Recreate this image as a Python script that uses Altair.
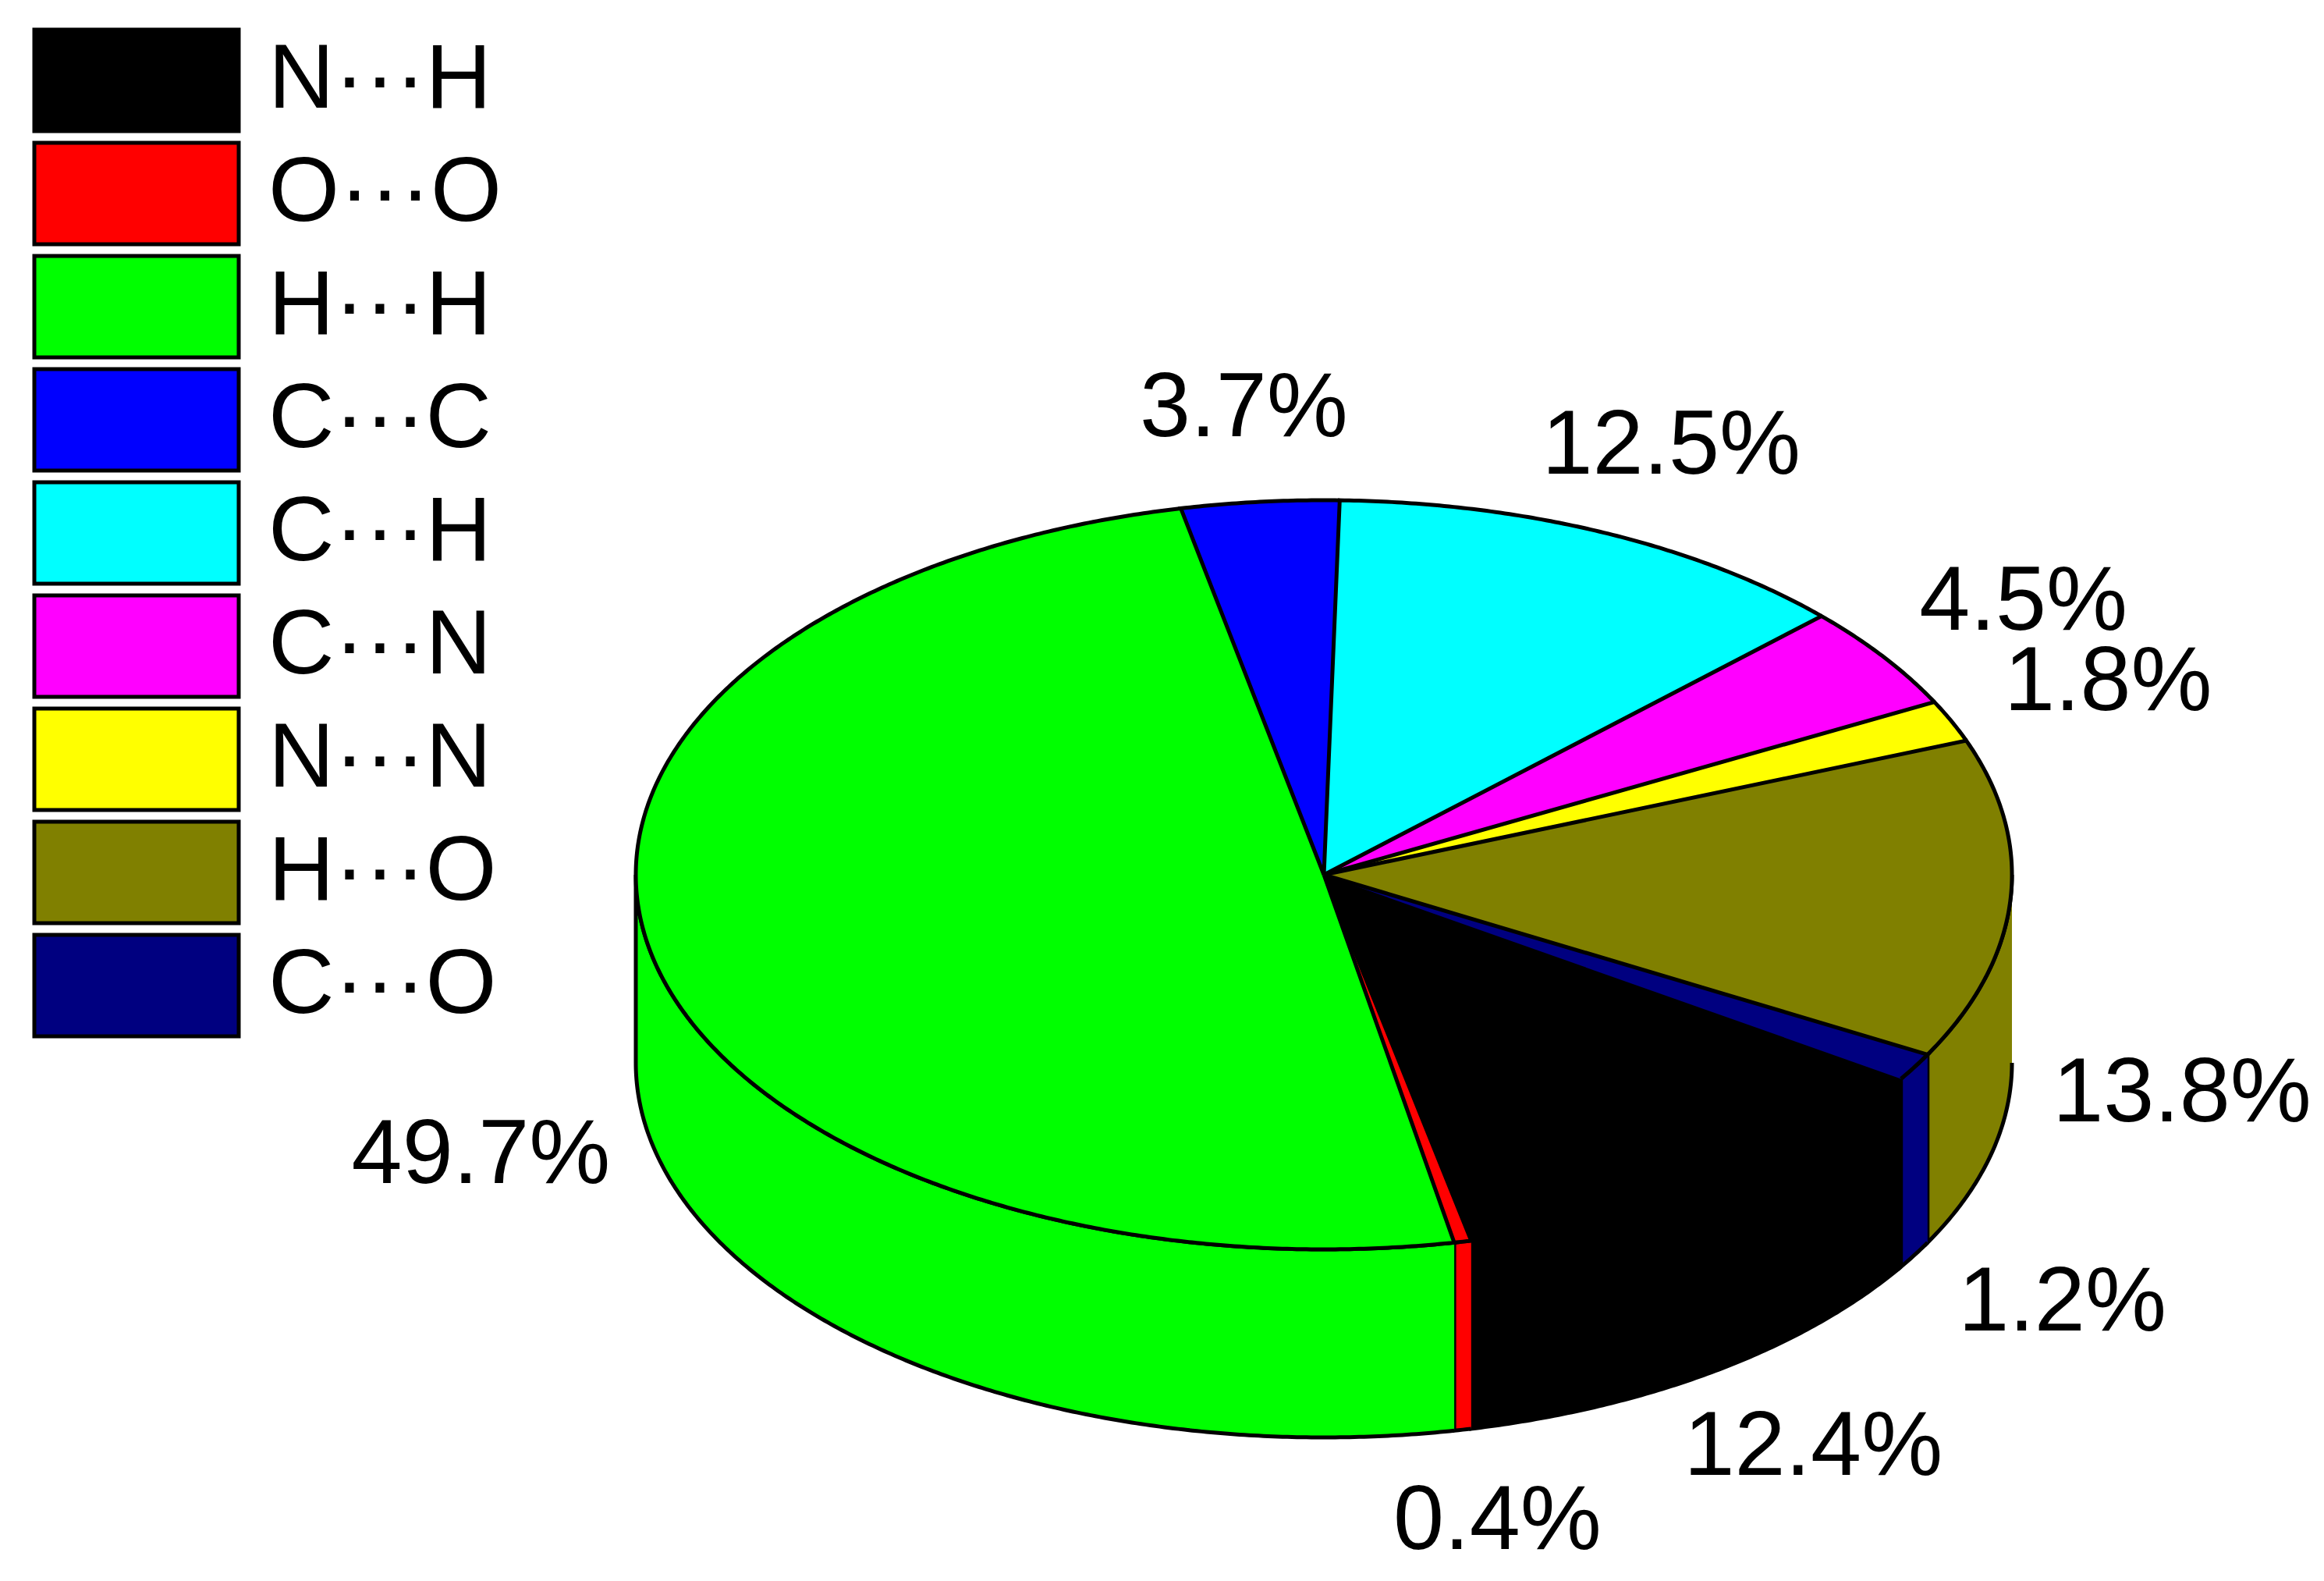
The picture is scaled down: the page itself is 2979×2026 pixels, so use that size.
import math
import altair as alt
import pandas as pd

# ---- data ----
labels = ["N\u00b7\u00b7\u00b7H", "O\u00b7\u00b7\u00b7O", "H\u00b7\u00b7\u00b7H", "C\u00b7\u00b7\u00b7C",
          "C\u00b7\u00b7\u00b7H", "C\u00b7\u00b7\u00b7N", "N\u00b7\u00b7\u00b7N", "H\u00b7\u00b7\u00b7O", "C\u00b7\u00b7\u00b7O"]
values = [12.4, 0.4, 49.7, 3.7, 12.5, 4.5, 1.8, 13.8, 1.2]
colors = ["#000000", "#FF0000", "#00FF00", "#0000FF", "#00FFFF",
          "#FF00FF", "#FFFF00", "#808000", "#000080"]

# ---- layout (page pixel coordinates) ----
W, H = 2979, 2026
CX, CY = 1697.0, 1121.0
RX, RY = 882.0, 480.0
DEPTH = 241.0
START = 33.0          # degrees, clockwise on screen from +x
LABEL_K = 1.25
FONT = "Liberation Sans"
FS = 117

def pt(t):
    r = math.radians(t)
    return CX + RX * math.cos(r), CY + RY * math.sin(r)

def arc(t0, t1):
    n = max(2, int(abs(t1 - t0) / 0.4) + 2)
    return [t0 + (t1 - t0) * i / (n - 1) for i in range(n)]

top_rows, side_rows, lab_rows = [], [], []
cum = 0.0
for lab, v in zip(labels, values):
    t0 = START + cum * 3.6
    t1 = t0 + v * 3.6
    cum += v
    # top face
    o = 0
    top_rows.append(dict(poly=lab, o=o, x=CX, y=CY, cat=lab)); o += 1
    for t in arc(t0, t1):
        x, y = pt(t)
        top_rows.append(dict(poly=lab, o=o, x=x, y=y, cat=lab)); o += 1
    # side walls (front half only)
    for k, (a, b) in enumerate([(0, 180), (360, 540)]):
        s0, s1 = max(t0, a), min(t1, b)
        if s1 > s0:
            pid = f"{lab}_{k}"
            o = 0
            ts = arc(s0, s1)
            for t in ts:
                x, y = pt(t)
                side_rows.append(dict(poly=pid, o=o, x=x, y=y, cat=lab)); o += 1
            for t in reversed(ts):
                x, y = pt(t)
                side_rows.append(dict(poly=pid, o=o, x=x, y=y + DEPTH, cat=lab)); o += 1
    # label
    m = math.radians((t0 + t1) / 2)
    lx = CX + LABEL_K * RX * math.cos(m)
    ly = CY + LABEL_K * RY * math.sin(m) + (DEPTH if math.sin(m) > 0 else 0)
    lab_rows.append(dict(x=lx, y=ly, text=f"{v}%"))

leg_rows = []
for i, lab in enumerate(labels):
    top = 38 + i * 145
    leg_rows.append(dict(x=44, x2=306, y=top, y2=top + 130, tx=344, ty=top + 65, cat=lab, text=lab))

top_df = pd.DataFrame(top_rows)
side_df = pd.DataFrame(side_rows)
lab_df = pd.DataFrame(lab_rows)
leg_df = pd.DataFrame(leg_rows)

xs = alt.Scale(domain=[8, W - 8], nice=False, zero=False)
ys = alt.Scale(domain=[8, H - 8], nice=False, zero=False, reverse=True)
cs = alt.Scale(domain=labels, range=colors)

X = lambda f: alt.X(f, type="quantitative", scale=xs, axis=None)
Y = lambda f: alt.Y(f, type="quantitative", scale=ys, axis=None)
C = alt.Color("cat:N", scale=cs, legend=None)

sides = alt.Chart(side_df).mark_line(filled=True, stroke="black", strokeWidth=5, strokeJoin="miter").encode(
    x=X("x"), y=Y("y"), detail="poly:N", order="o:Q", color=C)
tops = alt.Chart(top_df).mark_line(filled=True, stroke="black", strokeWidth=5, strokeJoin="miter").encode(
    x=X("x"), y=Y("y"), detail="poly:N", order="o:Q", color=C)
texts = alt.Chart(lab_df).mark_text(font=FONT, fontSize=FS, color="black", align="center", baseline="middle").encode(
    x=X("x"), y=Y("y"), text="text:N")
leg_box = alt.Chart(leg_df).mark_rect(stroke="black", strokeWidth=5).encode(
    x=X("x"), x2="x2", y=Y("y"), y2="y2", color=C)
leg_txt = alt.Chart(leg_df).mark_text(font=FONT, fontSize=FS, color="black", align="left", baseline="middle").encode(
    x=alt.X("tx", type="quantitative", scale=xs, axis=None),
    y=alt.Y("ty", type="quantitative", scale=ys, axis=None), text="text:N")

chart = alt.layer(sides, tops, texts, leg_box, leg_txt).properties(
    width=W - 16, height=H - 16, padding=0, autosize="none"
).configure_view(stroke=None)

chart.save("out.html", embed_options={"renderer": "svg", "actions": False})
